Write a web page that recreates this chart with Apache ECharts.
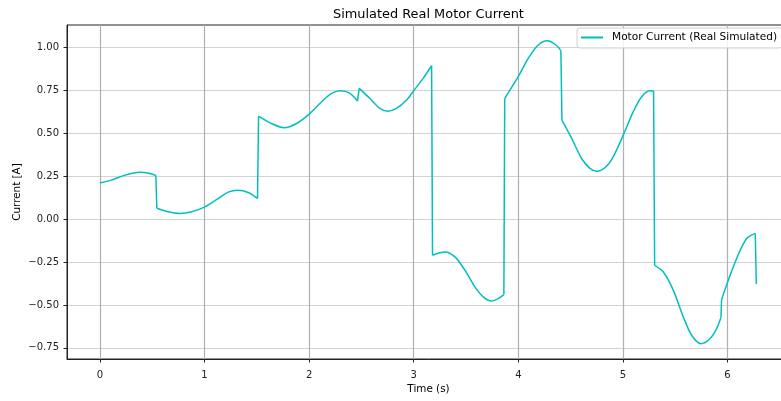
<!DOCTYPE html>
<html>
<head>
<meta charset="utf-8">
<script src="https://cdn.jsdelivr.net/npm/echarts@6/dist/echarts.min.js"></script>
<style>
html,body{margin:0;padding:0;background:#fff;overflow:hidden;width:781px;height:401px;}
#chart{width:792px;height:401px;}
</style>
</head>
<body>
<div id="chart"></div>
<script>
const times = [0, 0.11, 0.24, 0.38, 0.48, 0.535, 0.545,
  0.653, 0.765, 0.877, 1.004, 1.13, 1.227, 1.32, 1.418, 1.507,
  1.517, 1.64, 1.762, 1.88, 1.998, 2.12, 2.215, 2.304, 2.39, 2.463,
  2.479, 2.58, 2.677, 2.75, 2.836, 2.932, 3.005, 3.09, 3.171,
  3.18, 3.298, 3.394, 3.49, 3.585, 3.665, 3.744, 3.808, 3.862,
  3.87, 3.92, 3.999, 4.095, 4.19, 4.28, 4.36, 4.407,
  4.417, 4.51, 4.605, 4.685, 4.748, 4.828, 4.907, 5.003, 5.098, 5.179, 5.258, 5.293,
  5.303, 5.385, 5.481, 5.577, 5.657, 5.746, 5.832, 5.896, 5.937,
  5.943, 6.007, 6.10, 6.183, 6.265, 6.275];
const currents = [0.212, 0.228, 0.257, 0.274, 0.267, 0.255, 0.064,
  0.043, 0.033, 0.043, 0.072, 0.12, 0.158, 0.169, 0.156, 0.121,
  0.601, 0.558, 0.533, 0.558, 0.611, 0.685, 0.734, 0.749, 0.734, 0.689,
  0.763, 0.705, 0.646, 0.630, 0.646, 0.695, 0.753, 0.821, 0.895,
  -0.210, -0.191, -0.220, -0.298, -0.395, -0.453, -0.477, -0.463, -0.44,
  0.704, 0.753, 0.831, 0.938, 1.016, 1.041, 1.016, 0.983,
  0.578, 0.471, 0.354, 0.296, 0.280, 0.300, 0.364, 0.490, 0.626, 0.714, 0.749, 0.747,
  -0.269, -0.307, -0.414, -0.570, -0.677, -0.726, -0.697, -0.638, -0.574,
  -0.469, -0.356, -0.210, -0.113, -0.083, -0.378];
const xTicks = [0, 1, 2, 3, 4, 5, 6];
const yTicks = [-0.75, -0.5, -0.25, 0, 0.25, 0.5, 0.75, 1.0];
const seriesName = 'Motor Current (Real Simulated)';
const titleText = 'Simulated Real Motor Current';
const xName = 'Time (s)';
const yName = 'Current [A]';

const font = 'DejaVu Sans';
const lineColor = '#00bfbf';

// Split the signal at its steps (consecutive samples very close in time):
// smooth continuous pieces, straight vertical steps.
const pieces = [[]];
const steps = [];
times.forEach((t, i) => {
  if (i > 0 && t - times[i - 1] < 0.02) {
    steps.push([times[i - 1], currents[i - 1]], [t, currents[i]], '-');
    pieces.push([]);
  }
  pieces[pieces.length - 1].push([t, currents[i]]);
});
const series = pieces.map(p => ({
  name: seriesName, type: 'line', data: p,
  showSymbol: false, symbol: 'none', smooth: 0.3,
  lineStyle: {color: lineColor, width: 1.5}, itemStyle: {color: lineColor}
}));
series.push({
  name: seriesName, type: 'line', data: steps, connectNulls: false,
  showSymbol: false, symbol: 'none',
  lineStyle: {color: lineColor, width: 1.5}, itemStyle: {color: lineColor}
});

const chart = echarts.init(document.getElementById('chart'), null, {renderer: 'canvas'});
chart.setOption({
  animation: false,
  backgroundColor: '#fff',
  title: {
    text: titleText, left: 328, top: 3,
    textStyle: {fontFamily: font, fontSize: 12.9, fontWeight: 'normal', color: '#000'}
  },
  legend: {
    left: 577, top: 28,
    data: [{name: seriesName, icon: 'rect'}],
    itemWidth: 22, itemHeight: 2,
    padding: [4, 5, 5, 4],
    borderColor: '#d0d0d0', borderWidth: 1, borderRadius: 3,
    backgroundColor: 'rgba(255,255,255,0.8)',
    textStyle: {fontFamily: font, fontSize: 10.6, color: '#000', padding: [0, 0, 0, 4]}
  },
  grid: {
    left: 67, top: 25, width: 723, height: 334,
    outerBoundsMode: 'none', containLabel: false,
    show: true, borderColor: '#222', borderWidth: 1, backgroundColor: 'transparent'
  },
  xAxis: {
    type: 'value', min: -0.314, max: 6.597,
    name: xName, nameLocation: 'middle', nameGap: 25, nameMoveOverlap: false,
    nameTextStyle: {fontFamily: font, fontSize: 10.4, color: '#000'},
    axisLine: {show: true, onZero: false, lineStyle: {color: '#222', width: 1}},
    axisTick: {show: true, length: 3.5, customValues: xTicks, lineStyle: {color: '#222', width: 1}},
    axisLabel: {customValues: xTicks, margin: 11, fontFamily: font, fontSize: 10, color: '#222',
      formatter: v => String(v)},
    splitLine: {show: true, lineStyle: {color: '#b0b0b0', width: 1.2}}
  },
  yAxis: {
    type: 'value', min: -0.8155, max: 1.1326,
    name: yName, nameLocation: 'middle', nameGap: 45, nameMoveOverlap: false,
    nameTextStyle: {fontFamily: font, fontSize: 10.4, color: '#000'},
    axisLine: {show: true, onZero: false, lineStyle: {color: '#222', width: 1}},
    axisTick: {show: true, length: 3.5, customValues: yTicks, lineStyle: {color: '#222', width: 1}},
    axisLabel: {customValues: yTicks, margin: 8, fontFamily: font, fontSize: 10, color: '#222',
      formatter: v => (v < 0 ? '\u2212' : '') + Math.abs(v).toFixed(2)},
    splitLine: {show: true, lineStyle: {color: '#d3d3d3', width: 1.2}}
  },
  series: series
});
</script>
</body>
</html>
